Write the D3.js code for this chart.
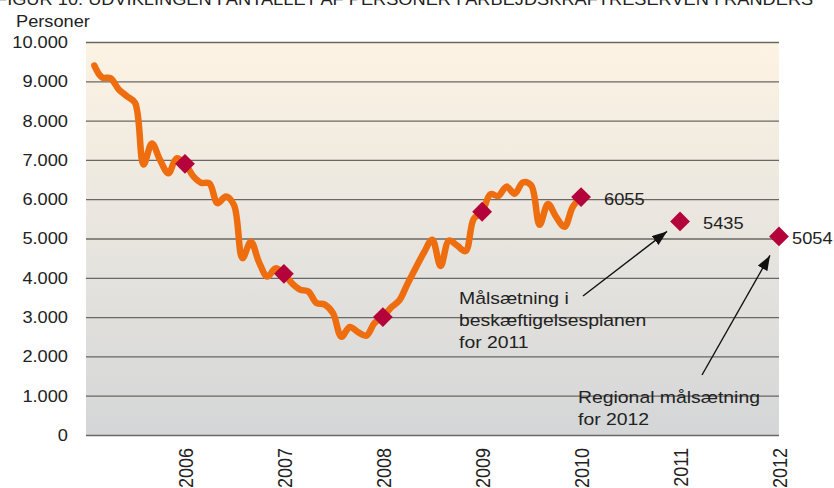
<!DOCTYPE html>
<html>
<head>
<meta charset="utf-8">
<script src="https://cdn.jsdelivr.net/npm/d3@7"></script>
<style>
body{margin:0;background:#fff}
text{font-family:"Liberation Sans",Arial,sans-serif;fill:#222}
</style>
</head>
<body>
<svg width="834" height="488"></svg>
<script>
// monthly count, feb 2005 .. jan 2010
const firstMonth=new Date(2005,1,1)
const persons=[9400,9100,9080,8800,8620,8450,6880,7420,7000,6660,7040,
6900,6580,6420,6400,5900,6070,5850,4500,4920,4400,4030,4240,
4100,3850,3700,3650,3360,3320,3100,2500,2750,2620,2530,2850,
3000,3250,3420,3850,4250,4650,4970,4300,4950,4820,4680,5500,
5680,6130,6080,6320,6140,6430,6350,5350,5880,5550,5300,5800,
6055]
// jan points + targets
const years=[2006,2007,2008,2009,2010,2011,2012]
const yearVals=[6900,4100,3000,5680,6055,5435,5054]
const labelled=[2010,2011,2012]
const yTicks=[0,1000,2000,3000,4000,5000,6000,7000,8000,9000,10000]
const title="FIGUR 10: UDVIKLINGEN I ANTALLET AF PERSONER I ARBEJDSKRAFTRESERVEN I RANDERS"

const svg=d3.select("svg")
const L=86,R=779,T=42,B=435
const sx=1.14 // source text is a bit wide
const dk=d3.formatLocale({decimal:",",thousands:".",grouping:[3],currency:["","kr"]}).format(",")

const x=d3.scaleTime().domain([new Date(2005,0,1),new Date(2012,0,1)]).range([L,R])
const y=d3.scaleLinear().domain([0,10000]).range([B,T])

const defs=svg.append("defs")
const gr=defs.append("linearGradient").attr("id","bg").attr("x1",0).attr("x2",0).attr("y1",0).attr("y2",1)
gr.append("stop").attr("offset","0%").attr("stop-color","#fdf3e3")
gr.append("stop").attr("offset","50%").attr("stop-color","#e8e5df")
gr.append("stop").attr("offset","100%").attr("stop-color","#d4d6d7")
defs.append("marker").attr("id","arr").attr("markerUnits","userSpaceOnUse")
.attr("markerWidth",16).attr("markerHeight",12).attr("refX",15).attr("refY",5.5).attr("orient","auto")
.append("path").attr("d","M0,0L15,5.5L0,11Z").attr("fill","#111")

txt=(px,py,s,size)=>svg.append("text").attr("transform",`translate(${px},${py}) scale(${sx},1)`)
.attr("font-size",size).text(s)

// heading, cut off by the top edge like in the source
txt(-4,5,title,16)

svg.append("rect").attr("x",L).attr("y",T).attr("width",R-L).attr("height",B-T).attr("fill","url(#bg)")

const ya=svg.append("g").attr("transform",`translate(${L},0)`)
.call(d3.axisLeft(y).tickValues(yTicks).tickSize(-(R-L)).tickFormat(dk))
ya.select(".domain").remove()
ya.selectAll("line").attr("stroke","#6a6764").attr("stroke-width",1.3)
ya.selectAll("text").attr("x",null).attr("dy","0.34em").attr("font-size",16)
.attr("transform",`translate(-18,0) scale(${sx},1)`)

const xa=svg.append("g").attr("transform",`translate(0,${B})`)
.call(d3.axisBottom(x).tickValues(years.map(d=>new Date(d,0,1))).tickSize(0).tickFormat(d3.timeFormat("%Y")))
xa.select(".domain").remove()
xa.selectAll("text").attr("y",null).attr("x",null).attr("dy","0.35em").attr("text-anchor","end")
.attr("font-size",18).attr("transform",`translate(0,13) rotate(-90) scale(1,${sx})`)

txt(16,27,"Personer",16)

const line=d3.line().x((d,i)=>x(d3.timeMonth.offset(firstMonth,i))).y(d=>y(d)).curve(d3.curveCatmullRom.alpha(0.5))
svg.append("path").datum(persons).attr("d",line).attr("fill","none")
.attr("stroke","#ee6d0e").attr("stroke-width",6.5).attr("stroke-linejoin","round").attr("stroke-linecap","round")

const dia=d3.symbol().type(d3.symbolDiamond2).size(250)
svg.selectAll(".mk").data(years).join("path").attr("class","mk").attr("d",dia)
.attr("transform",(d,i)=>`translate(${x(new Date(d,0,1))},${y(yearVals[i])})`).attr("fill","#b4023b")

years.forEach((d,i)=>{
if(labelled.indexOf(d)<0)return
let off=d==2012?13:23
txt(x(new Date(d,0,1))+off,y(yearVals[i])+7.5,yearVals[i],16)
})

// annotations
txt(459,304,"Målsætning i",17)
txt(459,326,"beskæftigelsesplanen",17)
txt(459,348,"for 2011",17)
txt(578,403,"Regional målsætning",17)
txt(578,425,"for 2012",17)

const tip1=[x(new Date(2011,0,1))-13,y(5435)+10]
const tip2=[x(new Date(2012,0,1))-9,y(5054)+19]
svg.append("line").attr("x1",583).attr("y1",296).attr("x2",tip1[0]).attr("y2",tip1[1])
.attr("stroke","#111").attr("stroke-width",1.4).attr("marker-end","url(#arr)")
svg.append("line").attr("x1",702).attr("y1",375).attr("x2",tip2[0]).attr("y2",tip2[1])
.attr("stroke","#111").attr("stroke-width",1.4).attr("marker-end","url(#arr)")
</script>
</body>
</html>
